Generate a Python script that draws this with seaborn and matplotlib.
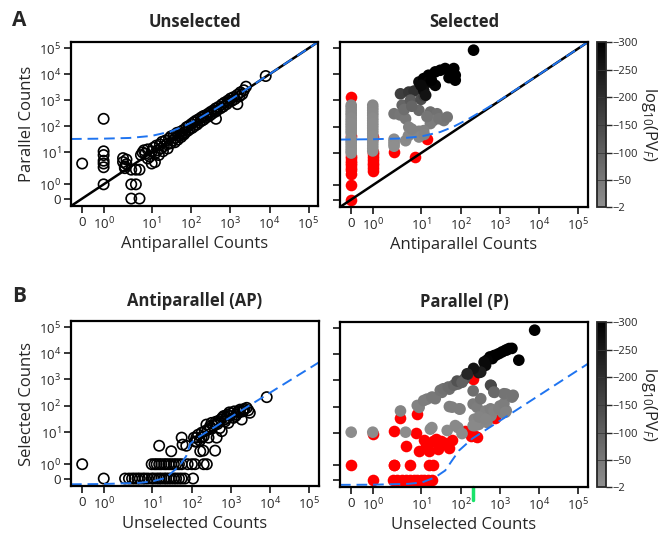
import numpy as np
import matplotlib
matplotlib.use("Agg")
import matplotlib.pyplot as plt
import seaborn as sns
from matplotlib.colors import LinearSegmentedColormap, Normalize
from matplotlib.cm import ScalarMappable

# ---------------- data ----------------
# A / Unselected: antiparallel counts (x) vs parallel counts (y)
unsel_ap = [0, 1, 1, 1, 1, 1, 1, 1,
            2.2, 2.6, 2.2, 2.6, 2.4, 2.4,
            3.3, 4.2, 5.1, 3.3, 4.2, 3.3, 5.1,
            5.5, 6, 6.5, 7, 8, 9, 10, 12, 8, 10, 11, 12, 13, 14, 15, 16, 17, 18, 19, 20,
            22, 24, 25, 27, 30, 30, 33, 36, 38, 40, 43, 45, 48, 52, 55, 58, 62, 65, 70, 75,
            80, 85, 90, 100, 105, 115, 120, 130, 140, 150, 160, 175, 185, 200, 210, 230, 250, 270, 290, 310,
            330, 360, 400, 420, 425, 450, 500, 550, 600, 650, 700, 800, 850, 900, 1000, 1100, 1200, 1300,
            1500, 1500, 1700, 1800, 2000, 2200, 2500, 8000]
unsel_p = [4, 190, 11, 8, 5, 4, 3, 1,
           6.2, 5.5, 4.5, 3.8, 3.2, 2.8,
           2.5, 2.5, 2.5, 1, 1, 0, 0,
           8, 10, 12, 9, 13, 7, 4, 4.5, 6, 11, 15, 9, 18, 12, 8, 20, 14, 25, 11, 17,
           28, 20, 14, 33, 22, 40, 28, 45, 24, 35, 55, 30, 42, 60, 38, 50, 70, 48, 58, 90,
           65, 100, 75, 120, 85, 140, 100, 160, 115, 180, 140, 210, 160, 240, 180, 260, 220, 300, 250, 350,
           290, 400, 350, 480, 190, 400, 550, 480, 680, 560, 800, 700, 950, 850, 1150, 950, 1300, 1100,
           700, 1600, 1400, 2000, 1700, 2400, 3300, 8500]

# Selected: non-significant (red)
sel_red_ap = [0, 0, 0, 0, 0, 0, 0, 0, 0, 0, 0, 0,
              1, 1, 1, 1, 1, 1, 1, 1, 1,
              2.4, 14, 7]
sel_red_p = [1370, 45, 7.9, 6.5, 5.4, 4.5, 3.7, 3.0, 2.5, 2, 1, 0,
             40, 11, 9, 7, 5.5, 4.5, 3.7, 3, 2.4,
             11, 34, 7]
# Selected: significant, coloured by log10(PV_F)
sel_ap = [0, 0, 0, 0, 0, 0, 0, 0, 0, 0, 0, 0, 0, 0, 0, 0, 0, 0, 0,
          1, 1, 1, 1, 1, 1, 1, 1, 1, 1, 1, 1, 1, 1, 1, 1, 1, 1, 1,
          2.4, 2.4, 2.4, 2.4,
          3.3, 5.1, 6.8, 3.6, 5.6, 8.9, 2.4, 3.2, 4.3, 5.1, 6.2, 4.3, 8.9, 17, 25,
          37, 20, 17, 11.6, 8.9, 5, 6, 12, 28, 45, 14, 4, 6, 10, 12,
          8.9, 11.6, 15.3, 22.5, 30, 40, 66, 72, 72, 50, 22.5, 15.3, 11.6, 13, 10, 18, 210]
sel_p = [660, 540, 420, 330, 270, 210, 170, 135, 110, 88, 70, 56, 36, 29, 24, 19, 15, 12, 10,
         660, 520, 420, 330, 270, 210, 170, 135, 110, 88, 70, 56, 45, 36, 29, 24, 19, 15, 12,
         33, 27, 22, 18,
         1800, 2100, 2300, 660, 1030, 420, 310, 280, 200, 95, 61, 29, 66, 360, 310,
         170, 170, 130, 70, 40, 45, 80, 50, 200, 230, 240, 450, 600, 1100, 1500,
         5100, 6900, 9300, 12500, 14400, 16800, 16800, 9300, 6000, 7500, 3800, 5100, 2450, 1600, 3800, 6000, 85000]
sel_pv = [-20, -18, -16, -15, -14, -12, -12, -10, -10, -9, -8, -8, -6, -6, -5, -5, -4, -4, -3,
          -20, -18, -16, -15, -14, -12, -12, -10, -10, -9, -8, -8, -7, -6, -6, -5, -5, -4, -4,
          -8, -7, -6, -5,
          -170, -185, -200, -90, -110, -80, -60, -55, -50, -30, -25, -15, -30, -70, -65,
          -50, -45, -40, -30, -20, -20, -30, -25, -55, -60, -55, -70, -90, -140, -160,
          -280, -300, -300, -300, -300, -300, -300, -300, -300, -300, -290, -290, -270, -260, -280, -300, -300]

# B / Antiparallel: unselected (x) vs selected (y)
ap_unsel = [0, 1,
            2.4, 2.9, 3.4, 3.9, 4.5, 5.1, 6, 6.8, 8, 9.8, 11, 13, 15, 17, 20, 22.5, 26, 30, 35, 40, 47, 55, 66, 107,
            9.8, 11.5, 13, 15, 17, 20, 22.5, 26, 30, 35, 40, 47, 55, 78, 100, 120, 200, 240,
            15, 30, 55, 58, 72, 113, 131, 163, 195, 390,
            144, 177, 212, 234, 288, 316, 389, 468, 512, 575, 690, 774, 850, 932, 1144, 1376, 1510, 1690,
            1860, 2030, 2500, 2740, 3000, 427, 265, 177, 8100,
            250, 300, 350, 400, 450, 550, 600, 650, 700, 800, 900, 1000, 1200, 1300, 1600, 2000, 2200,
            160, 200, 130, 120]
ap_sel = [1, 0,
          0, 0, 0, 0, 0, 0, 0, 0, 0, 0, 0, 0, 0, 0, 0, 0, 0, 0, 0, 0, 0, 0, 0, 0,
          1, 1, 1, 1, 1, 1, 1, 1, 1, 1, 1, 1, 1, 1, 1, 1, 1, 1,
          3.3, 2.2, 6.3, 3.6, 3.3, 6.3, 4.6, 2.2, 2.3, 2.3,
          8, 9.5, 10.8, 19, 16, 22, 19, 26, 14, 10.8, 29.5, 34, 22, 40, 34, 46, 61, 70,
          29.5, 70, 82, 66, 53, 6.3, 6.3, 6.3, 210,
          12, 14, 17, 24, 20, 30, 35, 40, 25, 45, 55, 50, 60, 40, 55, 60, 75,
          5, 7, 6.3, 4.6]

# B / Parallel: non-significant (red)
p_red_unsel = [0, 1, 1, 2.4, 2.4, 3.3, 8.2, 7.5, 4.4, 11.8,
               19.5, 31, 60, 9, 16, 27, 51, 180, 260, 740,
               205, 2.4, 5.3, 16, 19.5, 2.3, 2.8, 3.5, 4.4, 5.3,
               6.6, 8, 9.9, 12, 15, 19, 130, 230, 40, 24, 13]
p_red_sel = [1, 0, 9.6, 11.6, 1, 36, 52, 10.4, 3.5, 5.5,
             5, 5, 5.5, 2.4, 2.4, 2.7, 3, 7.7, 7, 38,
             1140, 1, 1, 1, 1, 0, 0, 0, 0, 0,
             0, 0, 0, 0, 0, 0, 12, 8, 4.5, 6, 3.5]
# B / Parallel: significant, coloured by log10(PV_F)
p_unsel = [0, 1, 3.3, 4.3, 17, 45, 84, 9, 14, 19.5, 33, 51, 84, 123, 150, 285,
           51, 95, 205, 205, 260, 590, 720, 1430, 2100, 220, 205, 285, 460, 590, 1180, 980, 1430, 430,
           8.1, 11.6, 18.5, 22.5, 30, 36, 48, 66, 80, 107, 60, 90, 18.5, 72, 107, 230, 290, 425,
           570, 690, 930, 1250, 1370, 1250, 2000, 2150, 320, 570, 690,
           7600, 3000, 1700, 1500, 2000, 1370, 1130, 930, 770, 630, 700, 550, 465, 390, 425, 320, 210, 144]
p_sel = [10.8, 10.8, 68, 10.8, 14, 12.5, 16, 93, 193, 222, 350, 465, 730, 1140, 1750, 2000,
         100, 80, 400, 125, 93, 630, 350, 300, 260, 33, 19, 21, 25, 45, 58, 105, 70, 68,
         110, 170, 230, 200, 420, 480, 560, 660, 950, 850, 95, 82, 16, 19, 9.6, 19, 40, 34,
         82, 70, 82, 130, 61, 310, 230, 270, 200, 660, 360,
         85000, 6000, 16800, 15000, 17000, 14400, 12500, 10700, 9300, 6900, 9000, 8000, 6000, 5100, 3800, 2100, 2900, 1800]
p_pv = [-8, -8, -25, -10, -12, -12, -15, -30, -45, -50, -60, -70, -90, -120, -200, -250,
        -35, -35, -70, -45, -40, -150, -70, -60, -60, -20, -15, -18, -20, -25, -30, -40, -30, -30,
        -30, -40, -50, -50, -60, -65, -75, -85, -130, -100, -35, -35, -12, -15, -12, -15, -25, -22,
        -35, -30, -35, -40, -30, -60, -55, -60, -60, -150, -80,
        -300, -300, -300, -300, -300, -300, -300, -300, -300, -300, -300, -300, -290, -280, -280, -240, -260, -220]

# blue dashed threshold curves
thr_top_x = [-0.52, 1, 3, 10, 30, 66, 160, 425, 1000, 10000, 175000]
thr_top_y = [32, 33, 35, 42, 62, 100, 200, 470, 1040, 10040, 175000]
thr_ap_x = [-0.52, 1, 5, 10, 22, 49, 72, 90, 130, 175000]
thr_ap_y = [-0.4, -0.38, -0.3, -0.2, 0.05, 0.9, 1.6, 3.8, 5.9, 4550]
thr_p_x = [-0.52, 1, 5, 10.6, 22.5, 40, 60, 90, 195, 175000]
thr_p_y = [-0.37, -0.36, -0.3, -0.2, 0.16, 0.63, 1.3, 2.5, 6.3, 4400]

green_mark_x = 200

tick_vals = [0, 1, 10, 100, 1000, 10000, 100000]
tick_labels = ["0", "$10^0$", "$10^1$", "$10^2$", "$10^3$", "$10^4$", "$10^5$"]
cb_ticks = [-300, -250, -200, -150, -100, -50, -2]
LIM = (-0.52, 1.75e5)

# ---------------- style ----------------
sns.set_style("ticks")
plt.rcParams["font.family"] = ["Open Sans", "DejaVu Sans"]
plt.rcParams["mathtext.fontset"] = "custom"
plt.rcParams["mathtext.rm"] = "Open Sans"
plt.rcParams["mathtext.it"] = "Open Sans:italic"
plt.rcParams["mathtext.bf"] = "Open Sans:bold"

BLUE = "#1f74f0"
pv_cmap = LinearSegmentedColormap.from_list("pv", ["black", "#8f8f8f"])
pv_norm = Normalize(vmin=-300, vmax=-2)

# log-like axis with a short linear stretch for 0..1
C_SHIFT = 0.44
LIN_W = 0.55


def fwd(v):
    v = np.asarray(v, dtype=float)
    hi = LIN_W + np.log10(np.maximum(v, 1.0) - C_SHIFT) - np.log10(1 - C_SHIFT)
    return np.where(v >= 1, hi, LIN_W * v)


def inv(f):
    f = np.asarray(f, dtype=float)
    hi = C_SHIFT + (1 - C_SHIFT) * 10 ** np.clip(f - LIN_W, -10, 12)
    return np.where(f >= LIN_W, hi, f / LIN_W)


W, H = 666, 539
fig = plt.figure(figsize=(W / 100, H / 100), dpi=100)


def px_axes(l, t, r, b):
    return fig.add_axes([l / W, 1 - b / H, (r - l) / W, (b - t) / H])


def prep(ax):
    ax.set_xscale("function", functions=(fwd, inv))
    ax.set_yscale("function", functions=(fwd, inv))


def finish(ax, xlabel, ylabel, title, show_y=True):
    ax.set_xlim(LIM)
    ax.set_ylim(LIM)
    ax.set_xticks(tick_vals)
    ax.set_xticklabels(tick_labels)
    ax.set_yticks(tick_vals)
    ax.set_yticklabels(tick_labels)
    ax.minorticks_off()
    ax.tick_params(direction="out", length=5, width=1.3, labelsize=9.5, pad=2)
    ax.tick_params(labelleft=show_y)
    for sp in ax.spines.values():
        sp.set_visible(True)
        sp.set_linewidth(1.6)
        sp.set_color("black")
    ax.set_xlabel(xlabel, fontsize=12, labelpad=3)
    ax.set_ylabel(ylabel if show_y else "", fontsize=12, labelpad=3)
    ax.set_title(title, fontsize=12, fontweight="bold", pad=11)


def open_circles(ax, x, y):
    sns.scatterplot(x=x, y=y, s=55, color="black", linewidth=1.2, ax=ax)
    coll = ax.collections[-1]
    coll.set_facecolor("none")
    coll.set_edgecolor("black")


def filled(ax, rx, ry, gx, gy, gpv):
    sns.scatterplot(x=rx, y=ry, s=70, color="red", linewidth=0, ax=ax)
    sns.scatterplot(x=gx, y=gy, hue=gpv, palette=pv_cmap, hue_norm=pv_norm,
                    s=70, linewidth=0, legend=False, ax=ax)


def colorbar(cax):
    sm = ScalarMappable(norm=pv_norm, cmap=pv_cmap)
    cb = fig.colorbar(sm, cax=cax)
    cb.set_ticks(cb_ticks)
    cb.set_ticklabels([f"\u2212{abs(t)}" for t in cb_ticks])
    cax.invert_yaxis()
    for t in cb_ticks[1:-1]:
        cax.axhline(t, color="#3a3a3a", lw=0.6)
    cb.outline.set_linewidth(1.3)
    cax.tick_params(length=4, width=1, labelsize=8, pad=1)
    cb.set_label(r"log$_{10}$(PV$_{F}$)", rotation=270, labelpad=15, fontsize=12)


# ---- A: Unselected ----
ax = px_axes(71, 42, 318, 206)
prep(ax)
ax.plot(LIM, LIM, color="black", lw=1.8)
open_circles(ax, unsel_ap, unsel_p)
ax.plot(thr_top_x, thr_top_y, color=BLUE, lw=1.4, dashes=(5.5, 3))
finish(ax, "Antiparallel Counts", "Parallel Counts", "Unselected")

# ---- A: Selected ----
ax = px_axes(340, 42, 588, 207)
prep(ax)
ax.plot(LIM, LIM, color="black", lw=1.8)
filled(ax, sel_red_ap, sel_red_p, sel_ap, sel_p, sel_pv)
ax.plot(thr_top_x, thr_top_y, color=BLUE, lw=1.4, dashes=(5.5, 3))
finish(ax, "Antiparallel Counts", "", "Selected", show_y=False)
colorbar(px_axes(597, 42, 606, 207))

# ---- B: Antiparallel ----
ax = px_axes(71, 321, 319, 486)
prep(ax)
open_circles(ax, ap_unsel, ap_sel)
ax.plot(thr_ap_x, thr_ap_y, color=BLUE, lw=1.4, dashes=(5.5, 3))
finish(ax, "Unselected Counts", "Selected Counts", "Antiparallel (AP)")

# ---- B: Parallel ----
ax = px_axes(340, 322, 588, 487)
prep(ax)
filled(ax, p_red_unsel, p_red_sel, p_unsel, p_sel, p_pv)
ax.plot(thr_p_x, thr_p_y, color=BLUE, lw=1.4, dashes=(5.5, 3))
ax.axvline(green_mark_x, ymin=-0.08, ymax=0, color="#19e36a", lw=2.5, clip_on=False)
finish(ax, "Unselected Counts", "", "Parallel (P)", show_y=False)
colorbar(px_axes(597, 322, 606, 487))

fig.text(12 / W, 1 - 20 / H, "A", fontsize=15, fontweight="bold", va="center", ha="left")
fig.text(12 / W, 1 - 297 / H, "B", fontsize=15, fontweight="bold", va="center", ha="left")

fig.savefig("out.png", dpi=100)
